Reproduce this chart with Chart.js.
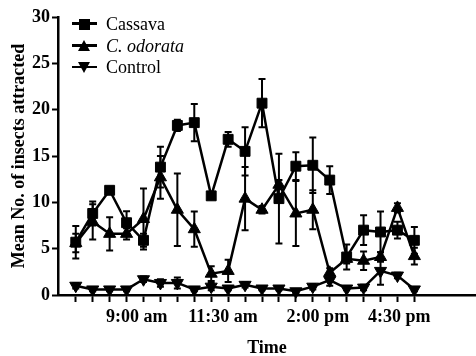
<!DOCTYPE html>
<html>
<head>
<meta charset="utf-8">
<script src="https://cdn.jsdelivr.net/npm/chart.js@4.4.1/dist/chart.umd.min.js"></script>
<style>
html,body{margin:0;padding:0;background:#fff;}
#wrap{width:476px;height:356px;position:relative;}
#c{position:absolute;left:0;top:0;}
#legend{position:absolute;left:0;top:0;width:0;height:0;}
.lg-line{position:absolute;left:72px;width:25px;height:2.5px;background:#000;}
.lg-sq{position:absolute;width:11px;height:11px;background:#000;}
.lg-up{position:absolute;width:0;height:0;border-left:6.5px solid transparent;border-right:6.5px solid transparent;border-bottom:11px solid #000;}
.lg-dn{position:absolute;width:0;height:0;border-left:6.5px solid transparent;border-right:6.5px solid transparent;border-top:11px solid #000;}
.lg-txt{position:absolute;left:106px;font:18px 'Liberation Serif','Times New Roman',serif;line-height:18px;color:#000;white-space:nowrap;}
</style>
</head>
<body>
<div id="wrap"><canvas id="c" width="476" height="356"></canvas><div id="legend"></div></div>
<script>
// sampling points (index along time axis)
const samplePoints = [0,1,2,3,4,5,6,7,8,9,10,11,12,13,14,15,16,17,18,19,20];

const seriesNames = ['Cassava', 'C. odorata', 'Control'];

const cassava      = [5.7, 8.8, 11.3, 7.8, 5.9, 13.8, 18.3, 18.6, 10.7, 16.8, 15.5, 20.7, 10.4, 13.9, 14.0, 12.4, 4.1, 7.0, 6.8, 7.0, 5.9];
const cassavaErr   = [1.75, 1.3, 0.3, 1.25, 0.7, 2.2, 0.6, 2.0, 0.2, 0.8, 2.6, 2.6, 4.85, 1.5, 3.0, 1.5, 1.35, 1.6, 2.2, 0.9, 1.45];

const odorata      = [5.6, 7.9, 6.6, 6.6, 8.2, 12.7, 9.2, 7.1, 2.3, 2.6, 10.4, 9.2, 11.9, 8.8, 9.2, 2.4, 3.9, 3.7, 4.1, 9.4, 4.2];
const odorataErr   = [1.0, 1.9, 1.8, 0.6, 3.3, 2.3, 3.9, 1.9, 0.8, 1.2, 3.4, 0.4, 0.5, 3.5, 2.1, 0.5, 0.5, 1.0, 0.5, 0.5, 0.9];

const control      = [1.0, 0.6, 0.6, 0.6, 1.7, 1.3, 1.3, 0.6, 0.9, 0.7, 1.1, 0.7, 0.7, 0.4, 0.9, 1.6, 0.7, 0.8, 2.6, 2.1, 0.6];
const controlErr   = [0.3, 0.2, 0.2, 0.2, 0.3, 0.4, 0.6, 0.2, 0.4, 0.2, 0.3, 0.2, 0.2, 0.2, 0.3, 0.6, 0.2, 0.3, 1.5, 0.3, 0.2];

const tickLabels   = ['9:00 am', '11:30 am', '2:00 pm', '4:30 pm'];
const tickLabelAt  = [3.6, 8.7, 14.3, 19.1];

const yTicks = [0, 5, 10, 15, 20, 25, 30];

const valuesList = [cassava, odorata, control];
const errorsList = [cassavaErr, odorataErr, controlErr];

const FONT = "'Liberation Serif', 'Times New Roman', serif";

function toXY(vals) { return samplePoints.map((x, i) => ({x: x, y: vals[i]})); }

const styles = [
  {pointStyle: 'rect', radius: 7, rotation: 0, legendClass: 'lg-sq'},
  {pointStyle: 'triangle', radius: 7, rotation: 0, legendClass: 'lg-up'},
  {pointStyle: 'triangle', radius: 7, rotation: 180, legendClass: 'lg-dn'}
];

const datasets = valuesList.map((vals, k) => ({
  label: seriesNames[k],
  data: toXY(vals),
  errors: errorsList[k],
  borderColor: '#000',
  backgroundColor: '#000',
  borderWidth: 2.5,
  tension: 0,
  pointStyle: styles[k].pointStyle,
  pointRadius: styles[k].radius,
  pointRotation: styles[k].rotation,
  pointBackgroundColor: '#000',
  pointBorderColor: '#000',
  pointBorderWidth: 1,
  fill: false,
  clip: false
}));

const errorBars = {
  id: 'errorBars',
  beforeDatasetsDraw(chart) {
    const ctx = chart.ctx;
    const xs = chart.scales.x, ys = chart.scales.y;
    ctx.save();
    ctx.strokeStyle = '#000';
    ctx.lineWidth = 2;
    chart.data.datasets.forEach(ds => {
      ds.data.forEach((p, i) => {
        const e = ds.errors[i];
        const x = xs.getPixelForValue(p.x);
        const y1 = ys.getPixelForValue(p.y + e);
        const y2 = ys.getPixelForValue(Math.max(0, p.y - e));
        ctx.beginPath();
        ctx.moveTo(x, y1); ctx.lineTo(x, y2);
        ctx.moveTo(x - 3.5, y1); ctx.lineTo(x + 3.5, y1);
        ctx.moveTo(x - 3.5, y2); ctx.lineTo(x + 3.5, y2);
        ctx.stroke();
      });
    });
    ctx.restore();
  }
};

// HTML legend built from the chart's datasets
const htmlLegend = {
  id: 'htmlLegend',
  afterUpdate(chart) {
    const box = document.getElementById('legend');
    box.innerHTML = '';
    const rows = [23.5, 45.5, 67];
    const markerY = [24, 47.5, 65.5];
    chart.data.datasets.forEach((ds, k) => {
      const line = document.createElement('div');
      line.className = 'lg-line';
      line.style.top = (rows[k] - 1.25) + 'px';
      box.appendChild(line);
      const mk = document.createElement('div');
      mk.className = styles[k].legendClass;
      const cx = 84.5, cy = markerY[k];
      if (k === 0) { mk.style.left = (cx - 5.5) + 'px'; mk.style.top = (cy - 5.5) + 'px'; }
      else if (k === 1) { mk.style.left = (cx - 6.5) + 'px'; mk.style.top = (cy - 7.5) + 'px'; }
      else { mk.style.left = (cx - 6.5) + 'px'; mk.style.top = (cy - 3.5) + 'px'; }
      box.appendChild(mk);
      const t = document.createElement('div');
      t.className = 'lg-txt';
      if (k === 1) t.style.fontStyle = 'italic';
      t.style.top = (rows[k] - 9) + 'px';
      t.textContent = ds.label;
      box.appendChild(t);
    });
  }
};

new Chart(document.getElementById('c'), {
  type: 'line',
  data: { datasets: datasets },
  plugins: [errorBars, htmlLegend],
  options: {
    responsive: false,
    animation: false,
    devicePixelRatio: 1,
    layout: { autoPadding: false, padding: { top: 17, right: 0, left: 0, bottom: 0 } },
    plugins: { legend: { display: false }, tooltip: { enabled: false } },
    scales: {
      x: {
        type: 'linear',
        min: -1.05,
        max: 23.64,
        afterBuildTicks(scale) {
          scale.ticks = samplePoints.map(v => ({value: v}))
            .concat(tickLabelAt.map(v => ({value: v})));
        },
        afterFit(scale) {
          scale.height = 61;
          scale.paddingLeft = 0;
          scale.paddingRight = 0;
        },
        ticks: {
          autoSkip: false,
          maxRotation: 0,
          minRotation: 0,
          padding: 5,
          color: '#000',
          font: { family: FONT, size: 18, weight: 'bold' },
          callback(value) {
            const k = tickLabelAt.indexOf(value);
            return k >= 0 ? tickLabels[k] : '';
          }
        },
        grid: {
          drawOnChartArea: false,
          drawTicks: true,
          tickLength: 7,
          tickWidth: 2,
          tickColor(ctx) {
            return (ctx.tick && tickLabelAt.indexOf(ctx.tick.value) >= 0) ? 'rgba(0,0,0,0)' : '#000';
          }
        },
        border: { display: true, color: '#000', width: 2.5 },
        title: {
          display: true,
          text: 'Time',
          color: '#000',
          font: { family: FONT, size: 18, weight: 'bold', lineHeight: 0.8 },
          padding: { top: 0, bottom: 0 }
        }
      },
      y: {
        type: 'linear',
        min: 0,
        max: 30,
        afterBuildTicks(scale) {
          scale.ticks = yTicks.map(v => ({value: v}));
        },
        afterFit(scale) {
          scale.width = 58;
          scale.paddingTop = 0;
          scale.paddingBottom = 0;
        },
        ticks: {
          padding: 2,
          color: '#000',
          font: { family: FONT, size: 18, weight: 'bold' }
        },
        grid: {
          drawOnChartArea: false,
          drawTicks: true,
          tickLength: 6,
          tickWidth: 2,
          tickColor: '#000'
        },
        border: { display: true, color: '#000', width: 2.5 },
        title: {
          display: true,
          text: 'Mean No. of insects attracted',
          color: '#000',
          font: { family: FONT, size: 18, weight: 'bold' },
          padding: { top: 9, bottom: 0 }
        }
      }
    }
  }
});
</script>
</body>
</html>
